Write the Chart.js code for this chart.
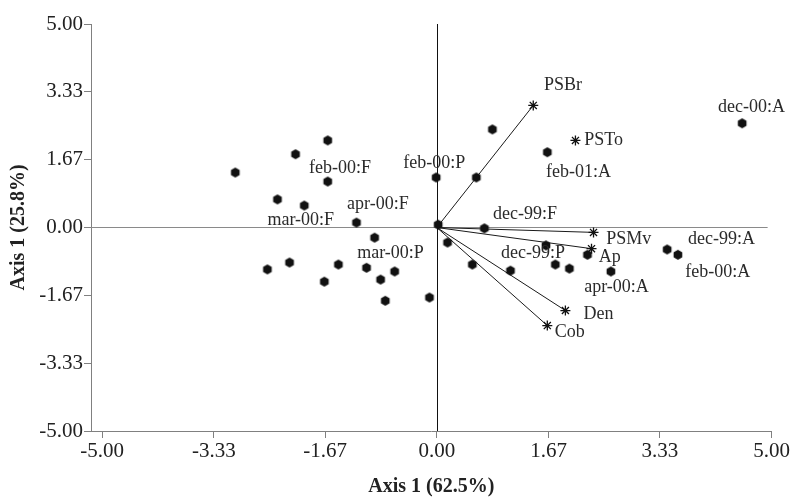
<!DOCTYPE html>
<html>
<head>
<meta charset="utf-8">
<script src="https://cdn.jsdelivr.net/npm/chart.js@4/dist/chart.umd.min.js"></script>
<style>
  html, body { margin: 0; padding: 0; background: #fff; }
  #wrap { width: 791px; height: 500px; }
</style>
</head>
<body>
<div id="wrap"><canvas id="biplot" width="791" height="500"></canvas></div>
<script>
// sample scores (hexagon markers)
const siteX = [-3.01, -2.11, -1.63, -1.63, -2.38, -1.98, -1.20, -0.93,
               -2.53, -2.20, -1.47, -1.05, -0.63, -0.84, -1.68, -0.77, -0.11,
               -0.01, 0.02, 0.16, 0.53, 0.59, 0.83, 0.71, 1.10,
               1.63, 1.77, 1.98, 1.65, 2.25, 2.60, 3.44, 3.60, 4.56];
const siteY = [1.35, 1.80, 2.14, 1.13, 0.69, 0.54, 0.12, -0.25,
               -1.03, -0.86, -0.91, -0.99, -1.08, -1.28, -1.33, -1.80, -1.72,
               1.23, 0.07, -0.37, -0.91, 1.23, 2.41, -0.02, -1.06,
               -0.44, -0.91, -1.01, 1.85, -0.67, -1.08, -0.54, -0.67, 2.56];

// variable scores (asterisks), with or without a vector from the origin
const varNames = ['PSBr', 'PSTo', 'PSMv', 'Ap', 'Den', 'Cob'];
const varX = [1.44, 2.07, 2.34, 2.31, 1.92, 1.65];
const varY = [3.00, 2.14, -0.12, -0.52, -2.04, -2.41];
const varArrow = [true, false, true, true, true, true];

// text labels, left edge / middle in axis units
const labelText = ['PSBr', 'PSTo', 'dec-00:A', 'feb-01:A', 'feb-00:P', 'feb-00:F',
                   'apr-00:F', 'mar-00:F', 'mar-00:P', 'dec-99:F', 'PSMv', 'dec-99:P',
                   'Ap', 'dec-99:A', 'feb-00:A', 'apr-00:A', 'Den', 'Cob'];
const labelX = [1.60, 2.20, 4.20, 1.63, -0.50, -1.91, -1.34, -2.53, -1.19, 0.84,
                2.53, 0.96, 2.42, 3.75, 3.71, 2.20, 2.19, 1.76];
const labelY = [3.49, 2.14, 2.95, 1.36, 1.58, 1.46, 0.56, 0.17, -0.64, 0.32,
                -0.30, -0.64, -0.73, -0.28, -1.11, -1.48, -2.12, -2.58];

const xTicks = [-5, -3.33, -1.67, 0, 1.67, 3.33, 5];
const yTicks = [-5, -3.33, -1.67, 0, 1.67, 3.33, 5];

// filled hexagon marker
function hexMarker(r) {
  const c = document.createElement('canvas');
  const s = Math.ceil(r * 2 + 2);
  c.width = s; c.height = s;
  const g = c.getContext('2d');
  g.fillStyle = '#111';
  g.beginPath();
  for (let i = 0; i < 6; i++) {
    const a = Math.PI / 6 + i * Math.PI / 3;
    const px = s / 2 + r * Math.cos(a), py = s / 2 + r * Math.sin(a);
    if (i === 0) g.moveTo(px, py); else g.lineTo(px, py);
  }
  g.closePath();
  g.fill();
  return c;
}

const datasets = [];
datasets.push({
  type: 'scatter',
  data: siteX.map((x, i) => ({x: x, y: siteY[i]})),
  pointStyle: hexMarker(5),
  pointRadius: 5
});
datasets.push({
  type: 'scatter',
  data: varX.map((x, i) => ({x: x, y: varY[i]})),
  pointStyle: 'star',
  pointRadius: 5,
  borderColor: '#111',
  borderWidth: 1.3
});
varNames.forEach((n, i) => {
  if (!varArrow[i]) return;
  datasets.push({
    type: 'line',
    data: [{x: 0, y: 0}, {x: varX[i], y: varY[i]}],
    borderColor: '#1a1a1a',
    borderWidth: 1,
    pointRadius: 0,
    fill: false
  });
});

// zero lines through the origin
const zeroLines = {
  id: 'zeroLines',
  beforeDatasetsDraw(chart) {
    const {ctx, chartArea, scales} = chart;
    const y0 = scales.y.getPixelForValue(0);
    const x0 = scales.x.getPixelForValue(0);
    ctx.save();
    ctx.lineWidth = 1.2;
    ctx.strokeStyle = '#8a8a8a';
    ctx.beginPath();
    ctx.moveTo(chartArea.left, y0);
    ctx.lineTo(chartArea.right - 4, y0);
    ctx.stroke();
    ctx.strokeStyle = '#111';
    ctx.lineWidth = 1;
    ctx.beginPath();
    ctx.moveTo(Math.round(x0) + 0.5, chartArea.top);
    ctx.lineTo(Math.round(x0) + 0.5, chartArea.bottom);
    ctx.stroke();
    ctx.restore();
  }
};

const pointLabels = {
  id: 'pointLabels',
  afterDatasetsDraw(chart) {
    const {ctx, scales} = chart;
    ctx.save();
    ctx.font = '18px "Liberation Serif", "Times New Roman", serif';
    ctx.fillStyle = '#2a2a2a';
    ctx.textAlign = 'left';
    ctx.textBaseline = 'middle';
    labelText.forEach((t, i) => {
      ctx.fillText(t, scales.x.getPixelForValue(labelX[i]), scales.y.getPixelForValue(labelY[i]));
    });
    ctx.restore();
  }
};

const tickFont = {family: '"Liberation Serif", "Times New Roman", serif', size: 21};
const titleFont = {family: '"Liberation Serif", "Times New Roman", serif', size: 20, weight: 'bold'};

new Chart(document.getElementById('biplot').getContext('2d'), {
  type: 'scatter',
  data: {datasets: datasets},
  options: {
    responsive: false,
    animation: false,
    layout: {padding: {top: 24, right: 19, left: 0, bottom: 0}},
    plugins: {legend: {display: false}, tooltip: {enabled: false}},
    scales: {
      x: {
        type: 'linear',
        min: -5.165,
        max: 5,
        afterFit(scale) { scale.height = 69; },
        afterBuildTicks(scale) { scale.ticks = xTicks.map(v => ({value: v})); },
        ticks: {
          callback: v => v.toFixed(2),
          font: tickFont,
          color: '#222',
          padding: 1,
          maxRotation: 0,
          autoSkip: false
        },
        grid: {drawOnChartArea: false, drawTicks: true, tickLength: 7, color: '#808080'},
        border: {display: true, color: '#808080', width: 1},
        title: {display: true, text: 'Axis 1 (62.5%)', font: titleFont, color: '#222',
                padding: {top: 2, bottom: 1}}
      },
      y: {
        type: 'linear',
        min: -5,
        max: 5,
        afterFit(scale) { scale.width = 91; },
        afterBuildTicks(scale) { scale.ticks = yTicks.map(v => ({value: v})); },
        ticks: {
          callback: v => v.toFixed(2),
          font: tickFont,
          color: '#222',
          padding: 1,
          autoSkip: false
        },
        grid: {drawOnChartArea: false, drawTicks: true, tickLength: 7, color: '#808080'},
        border: {display: true, color: '#808080', width: 1},
        title: {display: true, text: 'Axis 1 (25.8%)', font: titleFont, color: '#222',
                padding: {top: 7, bottom: 2}}
      }
    }
  },
  plugins: [zeroLines, pointLabels]
});
</script>
</body>
</html>
